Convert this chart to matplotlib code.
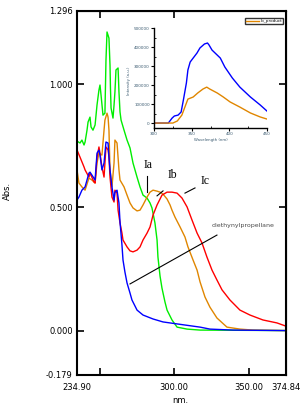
import matplotlib
matplotlib.use("Agg")
import matplotlib.pyplot as plt
from matplotlib.ticker import FixedLocator

# ---------------- data ----------------
blue_x = [234.9, 236.2, 238.2, 240.3, 242.9, 243.6, 244.9, 247.0, 248.3, 249.6, 250.3, 251.6, 253.0,
          254.3, 255.7, 256.3, 257.0, 258.3, 259.7, 260.3, 261.7, 263.0, 263.7, 265.0, 265.7, 267.0,
          268.4, 270.4, 271.7, 275.1, 279.1, 285.8, 292.5, 301.9, 317.3, 323.9, 339.4, 374.8]
blue_y = [0.530, 0.542, 0.570, 0.583, 0.639, 0.643, 0.631, 0.611, 0.720, 0.732, 0.712, 0.652, 0.680,
          0.765, 0.761, 0.704, 0.652, 0.583, 0.530, 0.562, 0.570, 0.518, 0.441, 0.348, 0.287, 0.238,
          0.194, 0.153, 0.125, 0.084, 0.064, 0.048, 0.036, 0.028, 0.015, 0.007, 0.003, 0.001]

red_x = [234.9, 236.9, 239.6, 240.3, 242.9, 243.6, 246.3, 247.0, 248.3, 249.6, 250.3, 251.6, 253.0,
         254.3, 255.7, 256.3, 257.0, 258.3, 259.7, 260.3, 261.7, 262.4, 263.7, 265.0, 265.7, 268.4,
         270.4, 272.4, 275.1, 277.1, 279.1, 281.8, 283.8, 285.8, 288.5, 291.8, 295.2, 298.5, 301.9,
         305.2, 308.6, 311.9, 315.3, 318.6, 321.9, 325.3, 328.6, 332.0, 337.3, 344.0, 350.7, 359.4,
         368.8, 374.8]
red_y = [0.733, 0.704, 0.664, 0.652, 0.623, 0.639, 0.603, 0.599, 0.704, 0.745, 0.720, 0.664, 0.623,
         0.745, 0.733, 0.704, 0.623, 0.542, 0.522, 0.570, 0.558, 0.489, 0.437, 0.396, 0.368, 0.340,
         0.324, 0.320, 0.327, 0.340, 0.368, 0.396, 0.421, 0.469, 0.510, 0.550, 0.562, 0.562, 0.558,
         0.538, 0.502, 0.449, 0.396, 0.356, 0.299, 0.246, 0.206, 0.166, 0.125, 0.084, 0.064, 0.044,
         0.032, 0.019]

orange_x = [234.9, 236.2, 238.2, 240.3, 242.9, 244.9, 247.0, 248.3, 249.6, 251.6, 253.0, 253.6, 255.0,
            255.7, 256.3, 257.0, 258.3, 259.7, 260.3, 261.7, 263.0, 263.7, 266.4, 268.4, 270.4, 272.4,
            275.1, 277.1, 279.1, 281.8, 283.8, 285.8, 288.5, 290.5, 292.5, 295.2, 297.2, 298.5, 300.5,
            303.9, 307.2, 309.2, 312.6, 315.3, 317.3, 320.6, 323.9, 328.6, 335.3, 344.0, 352.7, 374.8]
orange_y = [0.652, 0.599, 0.583, 0.570, 0.619, 0.611, 0.599, 0.680, 0.720, 0.712, 0.813, 0.854, 0.882,
            0.866, 0.813, 0.652, 0.583, 0.680, 0.773, 0.761, 0.652, 0.611, 0.583, 0.550, 0.518, 0.498,
            0.486, 0.489, 0.510, 0.542, 0.562, 0.570, 0.566, 0.562, 0.554, 0.534, 0.510, 0.489, 0.461,
            0.421, 0.380, 0.340, 0.287, 0.246, 0.198, 0.137, 0.096, 0.052, 0.015, 0.007, 0.003, 0.001]

green_x = [234.9, 236.9, 238.2, 239.6, 240.3, 241.6, 242.3, 243.6, 244.3, 245.6, 247.0, 248.3, 249.6,
           250.3, 251.0, 252.3, 253.6, 254.3, 255.0, 256.3, 257.0, 257.3, 257.7, 259.0, 259.7, 260.3,
           261.0, 262.4, 263.0, 263.7, 264.4, 266.4, 268.4, 270.4, 272.4, 275.1, 277.1, 279.1, 281.8,
           283.8, 285.1, 287.1, 288.5, 289.1, 290.5, 291.8, 293.8, 295.2, 298.5, 301.9, 308.6, 317.3,
           374.8]
green_y = [0.769, 0.761, 0.773, 0.753, 0.765, 0.813, 0.846, 0.866, 0.826, 0.813, 0.834, 0.915, 0.976,
           0.996, 0.955, 0.874, 0.882, 1.097, 1.211, 1.186, 1.077, 0.984, 0.903, 0.862, 0.915, 0.968,
           1.057, 1.065, 0.968, 0.887, 0.854, 0.813, 0.773, 0.741, 0.680, 0.623, 0.583, 0.550, 0.538,
           0.518, 0.498, 0.437, 0.368, 0.299, 0.222, 0.173, 0.117, 0.084, 0.044, 0.015, 0.007, 0.003,
           0.001]

# inset (emission spectra)
in_blue_x = [300, 319, 324, 327, 332, 336, 339, 343, 345, 348, 352, 357, 361, 367, 371, 373, 377, 388,
             394, 404, 414, 428, 441, 450]
in_blue_y = [0, 0, 26e3, 37e3, 42e3, 58e3, 121e3, 211e3, 279e3, 321e3, 342e3, 368e3, 395e3, 416e3,
             421e3, 411e3, 384e3, 342e3, 295e3, 237e3, 189e3, 137e3, 95e3, 63e3]
in_orange_x = [300, 325, 331, 337, 341, 345, 352, 358, 365, 370, 374, 384, 392, 401, 414, 428, 441, 450]
in_orange_y = [0, 0, 11e3, 42e3, 84e3, 126e3, 137e3, 158e3, 179e3, 189e3, 179e3, 158e3, 137e3, 111e3,
               84e3, 53e3, 32e3, 21e3]

xtick_vals = [234.90, 300.00, 350.00, 374.84]
xtick_labels = ["234.90", "300.00", "350.00", "374.84"]
ytick_vals = [-0.179, 0.0, 0.5, 1.0, 1.296]
ytick_labels = ["-0.179", "0.000", "0.500", "1.000", "1.296"]
in_xticks = [300, 350, 400, 450]
in_yticks = [0, 100000, 200000, 300000, 400000, 500000]

BLUE = "#0000ff"
RED = "#ff0000"
ORANGE = "#e08600"
GREEN = "#00ee00"

# ---------------- figure ----------------
W, H = 308, 412
fig = plt.figure(figsize=(W / 100, H / 100), dpi=100)
fig.patch.set_facecolor("white")

ax = fig.add_axes([77 / W, 1 - 375 / H, 209 / W, 364 / H])
ax.plot(green_x, green_y, color=GREEN, lw=1.0)
ax.plot(orange_x, orange_y, color=ORANGE, lw=1.0)
ax.plot(red_x, red_y, color=RED, lw=1.0)
ax.plot(blue_x, blue_y, color=BLUE, lw=1.0)

ax.set_xlim(234.90, 374.84)
ax.set_ylim(-0.179, 1.296)
for s in ax.spines.values():
    s.set_linewidth(1.5)

ax.set_xticks(xtick_vals)
ax.set_xticklabels(xtick_labels)
ax.xaxis.set_minor_locator(FixedLocator([250]))
ax.set_yticks(ytick_vals)
ax.set_yticklabels(ytick_labels)
ax.tick_params(axis="both", which="both", direction="in", length=5, width=1.2, labelsize=6)
ax.tick_params(axis="x", pad=6)
ax.tick_params(axis="y", pad=3)

sec_top = ax.secondary_xaxis("top")
sec_top.set_xticks([250, 300])
sec_top.tick_params(direction="in", length=5, width=1.2, labeltop=False)
sec_right = ax.secondary_yaxis("right")
sec_right.set_yticks([0.5, 1.0])
sec_right.tick_params(direction="in", length=5, width=1.2, labelright=False)

ax.set_ylabel("Abs.", fontsize=6)
ax.yaxis.set_label_coords(-0.31, 0.505)
ax.set_xlabel("nm.", fontsize=6)
ax.xaxis.set_label_coords(0.493, -0.058)

# annotations
serif = ["Liberation Serif", "DejaVu Serif"]
ax.text(282.4, 0.672, "Ia", family=serif, fontsize=8.5, ha="center", va="center")
ax.plot([281.8, 281.8], [0.627, 0.562], color="black", lw=0.8)
ax.text(298.5, 0.631, "Ib", family=serif, fontsize=8.5, ha="center", va="center")
ax.plot([288.5, 292.5], [0.547, 0.567], color="black", lw=0.8)
ax.text(320.6, 0.607, "Ic", family=serif, fontsize=8.5, ha="center", va="center")
ax.plot([307.2, 313.9], [0.558, 0.579], color="black", lw=0.8)
ax.text(325.3, 0.425, "diethynylpropellane", fontsize=4.5, color="#4a4a4a", ha="left", va="center")
ax.plot([328.6, 270.4], [0.388, 0.190], color="black", lw=0.8)

# ---------------- inset ----------------
axi = fig.add_axes([154 / W, 1 - 128 / H, 113 / W, 100 / H])
axi.patch.set_alpha(0)
axi.plot(in_blue_x, in_blue_y, color=BLUE, lw=1.0, label="_nolegend_")
lo, = axi.plot(in_orange_x, in_orange_y, color=ORANGE, lw=1.0, label="Ib_product")
axi.set_xlim(300, 450)
axi.set_ylim(-26000, 500000)
axi.spines["top"].set_visible(False)
axi.spines["right"].set_visible(False)
for s in ("left", "bottom"):
    axi.spines[s].set_linewidth(1.0)
axi.set_xticks(in_xticks)
axi.set_xticklabels([str(v) for v in in_xticks])
axi.set_yticks(in_yticks)
axi.set_yticklabels([str(v) for v in in_yticks])
axi.xaxis.set_minor_locator(FixedLocator([325, 375, 425]))
axi.yaxis.set_minor_locator(FixedLocator([50000, 150000, 250000, 350000, 450000]))
axi.tick_params(axis="both", which="major", direction="out", length=2, width=0.8,
                labelsize=3, labelcolor="#3a5a70", pad=1)
axi.tick_params(axis="both", which="minor", direction="in", length=1.5, width=0.6)
axi.set_ylabel("Intensity (a.u.)", fontsize=2.8, color="#3a5a70", labelpad=1)
axi.yaxis.set_label_coords(-0.205, 0.47)
axi.set_xlabel("Wavelength (nm)", fontsize=2.8, color="#3a5a70", labelpad=1)
axi.xaxis.set_label_coords(0.5, -0.10)
leg = axi.legend(handles=[lo], loc="center", bbox_to_anchor=(264 / W, 1 - 21 / H),
                 bbox_transform=fig.transFigure, fontsize=3, frameon=True, fancybox=False,
                 edgecolor="black", borderpad=0.25, handlelength=3, handletextpad=0.4,
                 borderaxespad=0)
leg.get_frame().set_linewidth(1.0)

fig.savefig("out.png", dpi=100, facecolor="white")
